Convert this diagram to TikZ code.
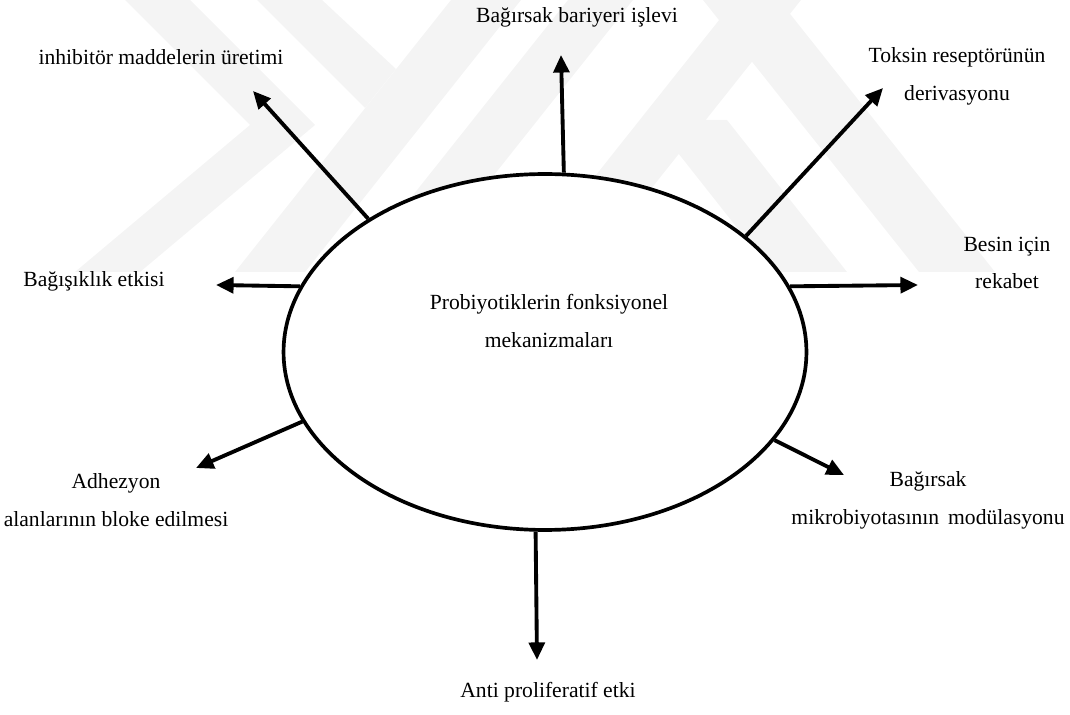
\documentclass[tikz,border=0pt]{standalone}
\usepackage{fontspec}
\setmainfont{Liberation Serif}
\usetikzlibrary{shapes.geometric,arrows.meta}

\tikzset{
  freccia/.style={line width=2.2pt,-{Triangle[length=10pt,width=9pt]}},
  etichetta/.style={align=center,font=\fontsize{12.3pt}{21.5pt}\selectfont},
  filigrana/.style={fill=gray!9},
}

\begin{document}
\begin{tikzpicture}[x=0.02cm,y=-0.02cm]
        \useasboundingbox (0,0) rectangle (1070,715);

        % Filigrana di sfondo
        \fill[filigrana] (125,0) -- (190,0) -- (315,125) -- (140,272) -- (75,272) -- (250,125) -- cycle;
        \fill[filigrana] (257,0) -- (322,0) -- (396,69) -- (365,108) -- cycle;
        \fill[filigrana] (235,272) -- (305,272) -- (521,0) -- (451,0) -- cycle;
        \fill[filigrana] (352,272) -- (417,272) -- (633,0) -- (568,0) -- cycle;
        \fill[filigrana] (519,272) -- (585,272) -- (801,0) -- (735,0) -- cycle;
        \fill[filigrana] (703,0) -- (779,0) -- (995,272) -- (919,272) -- cycle;
        \fill[filigrana] (652,120) -- (727,120) -- (847,272) -- (772,272) -- cycle;

        % Ellisse centrale
        \node[draw,ellipse,fill=white,line width=2.1pt,minimum width=10.46cm,minimum height=7.12cm] (mec) at (545,352) {};
        \node[etichetta] (titolo) at (549,321) {Probiyotiklerin fonksiyonel\\mekanizmaları};

        % Etichette attorno
        \node[etichetta] (bariyer) at (577,17) {Bağırsak bariyeri işlevi};
        \node[etichetta] (inhibitor) at (161,57) {inhibitör maddelerin üretimi};
        \node[etichetta] (toksin) at (957,76) {Toksin reseptörünün\\derivasyonu};
        \node[etichetta] (besin) at (1007,263) {Besin için\\rekabet};
        \node[etichetta] (bagisiklik) at (94,281) {Bağışıklık etkisi};
        \node[etichetta] (adhezyon) at (116,500) {Adhezyon\\alanlarının bloke edilmesi};
        \node[etichetta] (mikro) at (928,500) {Bağırsak\\mikrobiyotasının\ \,modülasyonu};
        \node[etichetta] (anti) at (548,692) {Anti proliferatif etki};

        % Punte delle frecce
        \coordinate (pInhibitor) at (253,91);
        \coordinate (pBariyer) at (561,55);
        \coordinate (pToksin) at (883,88);
        \coordinate (pBesin) at (918,285);
        \coordinate (pBagisiklik) at (216,285);
        \coordinate (pAdhezyon) at (196,468);
        \coordinate (pAnti) at (537,660);
        \coordinate (pMikro) at (844,475);

        % Frecce dall'ellisse
        \draw[freccia] (mec.143.7) -- (pInhibitor);
        \draw[freccia] (mec.84.9) -- (pBariyer);
        \draw[freccia] (mec.30) -- (pToksin);
        \draw[freccia] (mec.15.4) -- (pBesin);
        \draw[freccia] (mec.165.4) -- (pBagisiklik);
        \draw[freccia] (mec.196.4) -- (pAdhezyon);
        \draw[freccia] (mec.267.4) -- (pAnti);
        \draw[freccia] (mec.339.8) -- (pMikro);
\end{tikzpicture}
\end{document}
